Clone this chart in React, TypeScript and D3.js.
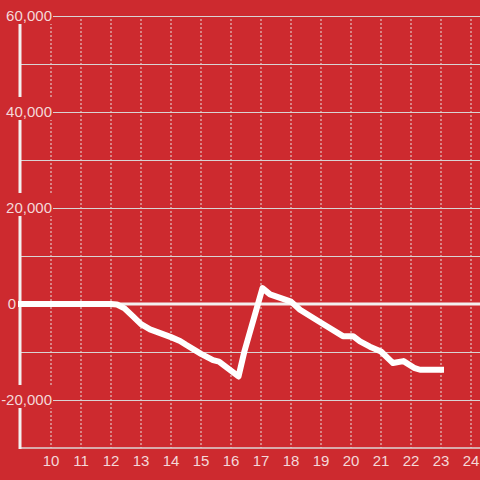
import React from "react";
import * as d3 from "d3";

const xs = [9, 10, 11, 12, 12.2, 12.45, 12.75, 13, 13.3, 14, 14.3, 14.5, 15, 15.4, 15.6, 16.25, 16.45, 17.05, 17.3, 18, 18.3, 19, 19.73, 20.07, 20.3, 20.63, 21, 21.4, 21.75, 22.1, 22.3, 23];
const ys = [0, 0, 0, 0, -100, -900, -2700, -4200, -5300, -6900, -7700, -8500, -10400, -11700, -12000, -15100, -9800, 3300, 2000, 500, -1200, -3900, -6700, -6700, -7800, -8900, -9900, -12300, -11900, -13300, -13700, -13700];
const xTicks = [10, 11, 12, 13, 14, 15, 16, 17, 18, 19, 20, 21, 22, 23, 24];
const yTicks = [-30000, -20000, -10000, 0, 10000, 20000, 30000, 40000, 50000, 60000];
const yLabels = [-20000, 0, 20000, 40000, 60000];

const W = 480, H = 480;
const BG = "#cd2a2f";
const TXT = "#f4d8d9";

export default function App() {
  const x = d3.scaleLinear().domain([9, 24]).range([21, 471]);
  const y = d3.scaleLinear().domain([-30000, 60000]).range([448, 16]);
  const fmt = d3.format(",");
  const line = d3
    .line<number>()
    .x((_, i) => x(xs[i]))
    .y((d) => y(d))
    .curve(d3.curveLinear);
  const x0 = x(9) - 1;
  return (
    <svg width={W} height={H} style={{ position: "fixed", left: 0, top: 0, display: "block" }} fontFamily="'Liberation Sans', Arial, sans-serif">
      <rect x={0} y={0} width={W} height={H} fill={BG} />
      {xTicks.map((t) => (
        <line key={"v" + t} x1={x(t)} x2={x(t)} y1={y(60000) + 3} y2={y(-30000)} stroke="#e6e0e0" strokeWidth={1} strokeDasharray="2,2" />
      ))}
      {yTicks.filter((t) => t !== 0 && t !== -30000).map((t) => (
        <line key={"h" + t} x1={x0} x2={W} y1={y(t) + 0.5} y2={y(t) + 0.5} stroke="#d9d3d3" strokeWidth={1} />
      ))}
      <line x1={x0} x2={W} y1={y(-30000)} y2={y(-30000)} stroke="#ddd6d6" strokeWidth={1.5} />
      <line x1={x0} x2={W} y1={y(0)} y2={y(0)} stroke="#f3f0f0" strokeWidth={3} />
      <line x1={x0} x2={x0} y1={y(60000)} y2={y(-30000) + 1} stroke="#f3f0f0" strokeWidth={3} />
      {yLabels.map((t) =>
        t === 0 ? (
          <text key={"l" + t} x={16} y={y(t)} dy="0.35em" textAnchor="end" fontSize={15} fill={TXT}>
            {fmt(t)}
          </text>
        ) : (
          <g key={"l" + t}>
            <rect x={0} y={y(t) - 15} width={53} height={23} fill={BG} />
            <text x={52} y={y(t)} dy="0.35em" textAnchor="end" fontSize={15} fill={TXT}>
              {fmt(t).replace("−", "-")}
            </text>
          </g>
        )
      )}
      {xTicks.map((t) => (
        <text key={"x" + t} x={x(t)} y={466} textAnchor="middle" fontSize={15} fill={TXT}>
          {t}
        </text>
      ))}
      <path d={line(ys) || ""} fill="none" stroke="#ffffff" strokeWidth={6} strokeLinecap="square" strokeLinejoin="round" />
    </svg>
  );
}
